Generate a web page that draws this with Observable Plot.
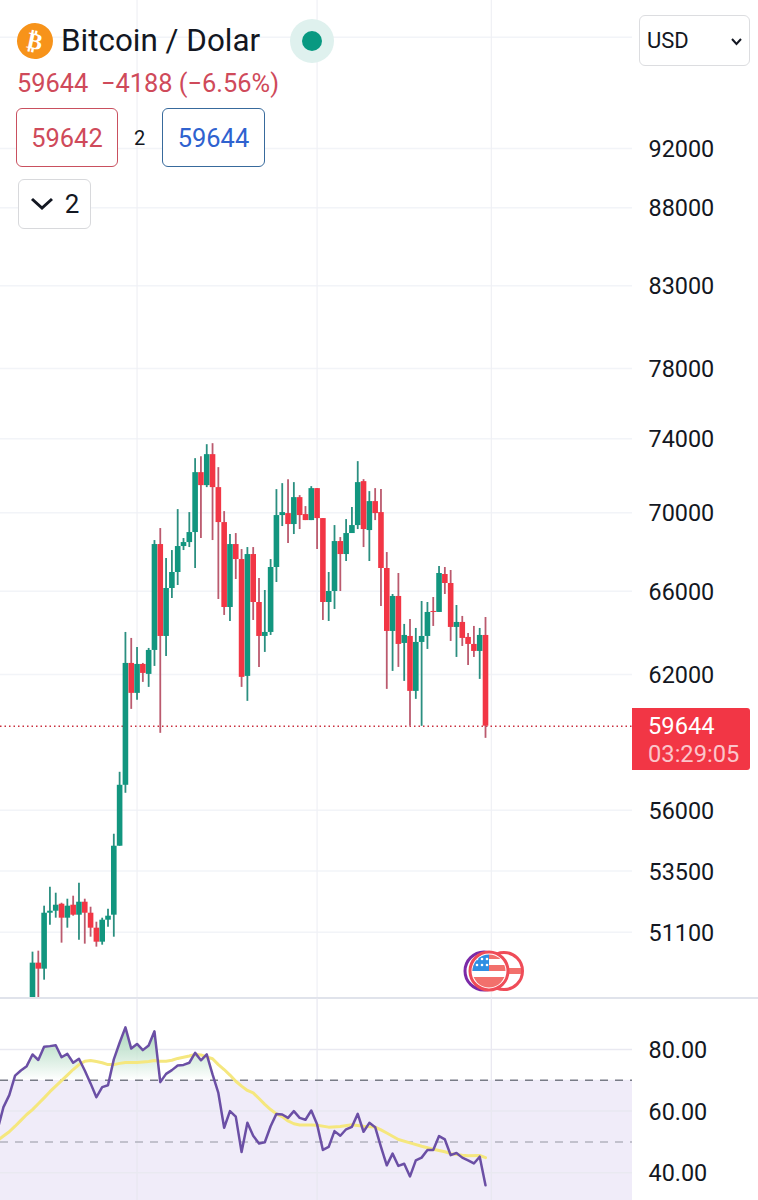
<!DOCTYPE html>
<html><head><meta charset="utf-8">
<script src="https://cdn.jsdelivr.net/npm/d3@7"></script>
<script src="https://cdn.jsdelivr.net/npm/@observablehq/plot@0.6"></script>
<style>
html,body{margin:0;padding:0;background:#fff;font-family:Roboto,sans-serif;color:#131722}
#wrap{position:relative;width:758px;height:1200px;overflow:hidden;background:#fff}
#main,#rsi{position:absolute;left:0}
#main{top:0}#rsi{top:998px}
#sep{position:absolute;left:0;top:996.5px;width:758px;height:2px;background:#e0e3eb}
.abs{position:absolute;box-sizing:border-box;white-space:pre}
.box{display:flex;align-items:center;justify-content:center;background:#fff;border-radius:6px}
</style></head><body>
<div id="wrap">
<div id="main"></div><div id="sep"></div><div id="rsi"></div>

<div class="abs" style="left:17px;top:23px;width:36px;height:36px;border-radius:50%;background:#f7931a;color:#fff;font:bold 23px 'DejaVu Sans';display:flex;align-items:center;justify-content:center;transform:rotate(12deg)">₿</div>
<div class="abs" style="left:61px;top:21px;font-size:31.4px;line-height:40px;color:#131722">Bitcoin / Dolar</div>
<div class="abs" style="left:290px;top:19px;width:44px;height:44px;border-radius:50%;background:#dff1ee"></div>
<div class="abs" style="left:302px;top:31px;width:20px;height:20px;border-radius:50%;background:#089981"></div>
<div class="abs" style="left:17px;top:68px;font-size:25.4px;line-height:30px;color:#cf4a5a">59644  −4188 (−6.56%)</div>

<div class="abs box" style="left:16px;top:108px;width:102px;height:59px;border:1.5px solid #c9505f;font-size:25.4px;color:#cf4a5a">59642</div>
<div class="abs" style="left:134px;top:126px;font-size:20px;line-height:24px">2</div>
<div class="abs box" style="left:162px;top:108px;width:103px;height:59px;border:1.5px solid #386a9c;font-size:25.4px;color:#2f62cf">59644</div>

<div class="abs box" style="left:18px;top:179px;width:73px;height:50px;border:1.5px solid #d8d9dc;font-size:26px;gap:11px">
<svg width="24" height="14" viewBox="0 0 24 14"><polyline points="2,2 12,11 22,2" fill="none" stroke="#131722" stroke-width="3"/></svg><span>2</span></div>

<div class="abs box" style="left:639px;top:15px;width:111px;height:51px;border:1.5px solid #dcdde0;font-size:22px;justify-content:flex-start;padding-left:7px">USD
<svg style="position:absolute;left:91px;top:22px" width="11" height="8" viewBox="0 0 11 8"><polyline points="1,1 5.5,6 10,1" fill="none" stroke="#131722" stroke-width="2"/></svg></div>

<div class="abs" style="left:632px;top:708px;width:118px;height:62px;background:#f23645;border-radius:0 3px 3px 0;padding:4px 0 0 16px;font-size:23.7px;line-height:28px;color:#fff">59644<br><span style="color:#fbc5ca">03:29:05</span></div>

<svg class="abs" style="left:460px;top:945px" width="70" height="54" viewBox="460 945 70 54">
<defs><clipPath id="flagClip"><circle cx="489" cy="971" r="16.5"/></clipPath></defs>
<circle cx="504" cy="971" r="18.5" fill="#fff" stroke="#ef4c58" stroke-width="3"/>
<rect x="508" y="968" width="13" height="6" fill="#f2706c"/>
<circle cx="484" cy="971" r="19" fill="#fff" stroke="#7b2aa8" stroke-width="3"/>
<circle cx="489" cy="971" r="19" fill="#fff" stroke="#ef4c58" stroke-width="3"/>
<g clip-path="url(#flagClip)">
<rect x="470" y="954" width="38" height="34" fill="#fff"/>
<rect x="470" y="965" width="38" height="6" fill="#f2706c"/>
<rect x="470" y="977" width="38" height="12" fill="#f2706c"/>
<rect x="489" y="954" width="19" height="5" fill="#f2706c"/>
<rect x="470" y="954" width="19" height="17" fill="#2f8fe3"/>
<g fill="#fff"><circle cx="477" cy="959" r="1.3"/><circle cx="482" cy="959" r="1.3"/><circle cx="487" cy="959" r="1.3"/><circle cx="477" cy="965" r="1.3"/><circle cx="482" cy="965" r="1.3"/><circle cx="487" cy="965" r="1.3"/></g>
</g></svg>
</div>

<script>
const opens=[48383,49930,49705,51836,51914,52187,51643,52148,51759,52266,51836,51257,50722,51565,51759,54508,57057,62519,61130,62472,62007,63131,68351,63797,66134,66932,68249,68453,68969,72139,71440,73120,71333,69487,65199,68351,67586,61914,67840,65444,63797,63989,67183,69853,69957,69384,70800,69905,69591,71280,69695,65444,65986,68504,67840,68917,69331,71654,69072,70589,70009,67133,64037,65740,63463,63797,61221,63511,63797,65005,64956,66832,66383,64230,64471,63750,63416,63084,63845];
const highs=[50344,50381,52110,52857,52620,52226,52384,52502,53016,52384,52070,51488,51643,51992,55000,57616,63989,63702,63273,62519,63226,68556,69176,67638,68044,70167,68660,70009,72900,73010,73668,73724,72410,70062,68866,68917,68095,68197,68197,66632,66035,67586,71226,71547,71762,71601,70906,70325,71386,71280,69695,66932,69331,68711,69643,70272,72737,71762,71120,71280,71226,67942,65838,66882,64375,64615,64181,65493,65444,65689,67233,67183,67032,65297,64762,63941,64278,64181,64712];
const lows=[48200,48300,49297,51372,51643,50685,51257,51720,50798,50647,50912,50533,50608,51295,50912,54508,56716,60401,60810,61636,61405,62379,59325,62848,65640,66283,68044,68197,67133,68660,71333,68556,65591,64810,64519,66582,61405,60765,64567,62332,63037,63845,66433,69280,68402,68866,69124,69591,69591,68095,64567,64519,65102,65986,67486,68917,69124,68197,67486,69591,65249,61313,62146,62332,61682,59637,60856,59637,63178,64278,64956,65838,63558,62801,63320,62426,62801,61774,59102];
const closes=[49930,49705,51836,51914,52148,51643,52110,51759,52266,51836,51257,50722,51565,51720,54508,57057,62519,61130,62472,62053,63131,68351,63797,66134,66932,68249,68453,68969,72139,71440,73120,71333,69487,65199,68351,67586,61868,67840,65444,63797,63989,67183,69853,70009,69384,70800,69853,69591,71280,69695,65444,65986,68504,67840,68917,69331,71601,69124,70589,69957,67133,64037,65740,63416,63845,61221,63511,63797,64956,64956,66882,66383,64230,64471,63702,63416,63084,63845,59644];

const priceTicks=[92000,88000,83000,78000,74000,70000,66000,62000,56000,53500,51100];
const priceGrid=[100000,...priceTicks];
const lastPrice=59644;
const monthBreaks=[18,49,79];

const rsiStart=-6;
const rsiValues=[54.1,61.3,65.2,71.5,73.2,74.6,78.4,76.6,80.9,81.1,81.4,77.5,78.6,75.7,77.0,73.2,69.0,64.5,67.8,68.4,76.8,82.2,87.2,80.3,81.8,79.8,81.3,85.9,69.4,72.1,73.3,74.8,75.0,75.7,78.9,76.5,78.4,71.9,65.9,54.6,60.0,58.2,46.7,56.2,52.0,49.5,49.9,55.1,59.1,58.9,57.8,60.0,57.8,57.2,60.2,55.7,47.4,48.4,53.5,52.0,54.1,54.9,59.1,53.3,56.2,54.8,48.4,42.4,46.2,42.2,42.9,38.8,44.0,44.9,47.4,47.4,51.9,50.8,45.7,46.4,44.9,44.0,43.0,45.2,35.9];
const maIndex=[-6,-5,-4,-3,-2,-1,0,1,2,3,4,5,6,7,8,9,10,11,12,13,14,15,16,18,20,21,22,23,24,25,26,27,28,29,30,31,32,33,34,35,36,37,38,39,40,41,42,43,44,45,46,48,49,51,53,55,57,59,60,61,63,65,67,69,71,72,74,75,77,78];
const maValues=[50.5,51.9,53.3,55.1,57.0,58.9,60.5,62.4,64.3,66.3,68.1,69.9,71.7,73.5,75.1,76.2,76.4,76.1,75.7,75.1,75.1,75.5,75.8,75.8,76.1,76.4,76.2,76.2,76.5,77.1,77.5,77.9,78.4,78.2,77.6,77.0,75.1,73.5,71.7,69.7,68.1,66.7,65.9,64.1,62.2,60.5,59.1,58.2,56.8,55.9,55.5,55.5,55.4,54.8,55.0,55.6,55.1,54.8,53.9,52.9,50.8,49.7,48.6,47.6,46.8,46.2,45.7,45.5,45.6,44.9];
const rsiTicks=[80,60,40];
const rsiFmt=d=>d.toFixed(2);

const green="#12967f", red="#f23645", wickGreen="#2b8f80", wickRed="#bb5a6e";
const grid="#f2f4f8", vgrid="#eff0f5";
const xDomain=[-5.51,103.31];

const candles=opens.map((open,i)=>({i,open,high:highs[i],low:lows[i],close:closes[i]}));
const up=d=>d.close>=d.open, down=d=>d.close<d.open;
const rsi=rsiValues.map((v,k)=>({i:rsiStart+k,v,top:Math.max(v,70)}));
const ma=maValues.map((v,k)=>({i:maIndex[k],v}));

const fontStyle={fontFamily:"Roboto",fontSize:"23.4px",background:"transparent",color:"#131722"};
const frame={width:758,marginLeft:0,marginRight:126,marginTop:0,marginBottom:0,style:fontStyle};

document.getElementById("main").append(Plot.plot({
  ...frame,height:997,
  x:{domain:xDomain,axis:null},
  y:{type:"log",domain:[48660,102800],axis:null},
  marks:[
    Plot.ruleY(priceGrid,{stroke:grid,strokeWidth:1.5}),
    Plot.ruleX(monthBreaks,{stroke:vgrid,strokeWidth:1.2}),
    Plot.ruleY([lastPrice],{stroke:"#c9303f",strokeWidth:1.4,strokeDasharray:"1.5,3"}),
    Plot.ruleX(candles.filter(up),{x:"i",y1:"low",y2:"high",stroke:wickGreen,strokeWidth:1.8}),
    Plot.ruleX(candles.filter(down),{x:"i",y1:"low",y2:"high",stroke:wickRed,strokeWidth:1.8}),
    Plot.ruleX(candles.filter(up),{x:"i",y1:"open",y2:"close",stroke:green,strokeWidth:5.6}),
    Plot.ruleX(candles.filter(down),{x:"i",y1:"open",y2:"close",stroke:red,strokeWidth:5.6}),
    Plot.axisY(priceTicks,{anchor:"right",tickSize:0,tickPadding:16,dy:1,label:null,tickFormat:d=>String(d)})
  ]
}));

document.getElementById("rsi").append(Plot.plot({
  ...frame,height:202,
  x:{domain:xDomain,axis:null},
  y:{domain:[30.98,96.56],axis:null},
  marks:[
    ()=>{const defs=d3.create("svg:defs");
      const g=defs.append("linearGradient").attr("id","rsiGlow").attr("x1",0).attr("x2",0).attr("y1",0).attr("y2",1);
      g.append("stop").attr("offset","0%").attr("stop-color","#8fcaa6").attr("stop-opacity",.75);
      g.append("stop").attr("offset","100%").attr("stop-color","#ffffff").attr("stop-opacity",.9);
      return defs.node();},
    Plot.rectY([0],{x1:xDomain[0],x2:xDomain[1],y1:70,y2:30.98,fill:"#f0ecf9"}),
    Plot.ruleX(monthBreaks,{stroke:"#e8e7f0",strokeWidth:1.2}),
    Plot.ruleY(rsiTicks,{stroke:"#e9e9f1",strokeWidth:1.5}),
    Plot.areaY(rsi,{x:"i",y1:70,y2:"top",fill:"url(#rsiGlow)"}),
    Plot.ruleY([70],{stroke:"#787b86",strokeWidth:1.5,strokeDasharray:"8,7"}),
    Plot.ruleY([50],{stroke:"#b3b3bf",strokeWidth:1.5,strokeDasharray:"8,7"}),
    Plot.line(ma,{x:"i",y:"v",stroke:"#f5e77e",strokeWidth:3,clip:true}),
    Plot.line(rsi,{x:"i",y:"v",stroke:"#6b4fa5",strokeWidth:2.5,clip:true}),
    Plot.axisY(rsiTicks,{anchor:"right",tickSize:0,tickPadding:16,dy:1,label:null,tickFormat:rsiFmt})
  ]
}));
</script>
</body></html>
